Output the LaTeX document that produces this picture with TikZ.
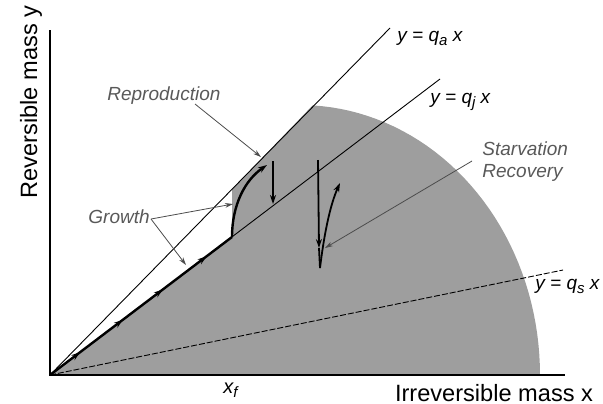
\documentclass[tikz,border=0pt]{standalone}
\usepackage{fontspec}
\setmainfont{Liberation Sans}
\usetikzlibrary{arrows.meta,decorations.markings}
\newcommand{\lowsub}[1]{\raisebox{-0.45ex}{\fontsize{7.5}{8}\selectfont #1}}
\begin{document}
\begin{tikzpicture}[x=0.5pt,y=-0.5pt,
  thinline/.style={line width=0.45pt, black},
  leader/.style={line width=0.4pt, black!70, -{Stealth[length=4pt,width=2.4pt]}},
  heavy/.style={line width=1.2pt, black},
  headtip/.style={-{Stealth[length=4.5pt,width=3pt]}},
  lbl/.style={font=\fontsize{9.5}{11}\selectfont\itshape, text=black!65, inner sep=0},
  eq/.style={font=\fontsize{9.5}{11}\selectfont\itshape, inner sep=0},
  axislbl/.style={font=\fontsize{11.8}{14}\selectfont, inner sep=0}]
\useasboundingbox (0,0) rectangle (603,403);
% key coordinates
\coordinate (O) at (50,375);
\coordinate (xf) at (232,237);
\coordinate (qaf) at (232,189.3);
\coordinate (qaend) at (390,28);
\coordinate (qjend) at (440,79);
\coordinate (qsend) at (563,270);
% shaded feasible region
\fill[black!38] (O) -- (xf) -- (qaf) -- (312.6,105.4)
  -- plot[domain=87:0,samples=40] ({300+240*cos(\x)},{375-270*sin(\x)}) -- cycle;
% lines
\draw[thinline] (O) -- (qaend);
\draw[thinline] (O) -- (qjend);
\draw[thinline, dash pattern=on 3pt off 1pt] (O) -- (qsend);
% axes
\coordinate (ytop) at (50,30);
\coordinate (xend) at (565,375);
\draw[line width=0.8pt] (ytop) -- (O) -- (xend);
% growth trajectory
\draw[heavy, postaction={decorate}, decoration={markings,
  mark=at position 0.165 with {\arrow{Stealth[length=4.5pt,width=3pt]}},
  mark=at position 0.40 with {\arrow{Stealth[length=4.5pt,width=3pt]}},
  mark=at position 0.62 with {\arrow{Stealth[length=4.5pt,width=3pt]}},
  mark=at position 0.86 with {\arrow{Stealth[length=4.5pt,width=3pt]}}}] (O) -- (xf);
% reproduction
\coordinate (rtop) at (267,165);
\draw[heavy, headtip] (xf) .. controls (232,205) and (245,180) .. (rtop);
\coordinate (d1) at (273,161);
\coordinate (d2) at (273,204);
\draw[heavy, headtip] (d1) -- (d2);
% starvation / recovery
\coordinate (s1) at (318,160);
\coordinate (s2) at (319,248);
\coordinate (s3) at (320,268);
\coordinate (s4) at (340,183);
\draw[line width=0.9pt, headtip] (s1) -- (s2);
\draw[line width=0.9pt] (s2) -- (s3);
\draw[line width=0.9pt, headtip] (s3) .. controls (324,235) and (330,205) .. (s4);
% labels
\node[axislbl, anchor=base] (xl) at (494,401) {Irreversible mass x};
\node[axislbl, rotate=90, anchor=base] (yl) at (37,102) {Reversible mass y};
\node[eq, anchor=base west] (qa) at (397,41) {y = q\lowsub{a} x};
\node[eq, anchor=base west] (qj) at (430,103) {y = q\lowsub{j} x};
\node[eq, anchor=base west] (qs) at (535,289) {y = q\lowsub{s} x};
\node[eq, anchor=base west, font=\fontsize{10}{12}\selectfont\itshape] (xfl) at (223,393) {x\lowsub{f}};
\node[lbl, anchor=base west] (rep) at (107,100) {Reproduction};
\node[lbl, anchor=base west] (gro) at (88,223) {Growth};
\node[lbl, anchor=base west] (sta) at (482,155) {Starvation};
\node[lbl, anchor=base west] (rec) at (482,177) {Recovery};
% leaders
\coordinate (repA) at (195,104);
\coordinate (repB) at (261,157);
\draw[leader] (repA) -- (repB);
\coordinate (groA) at (151,219);
\coordinate (groB) at (233,204);
\coordinate (groC) at (186,265);
\draw[leader] (groA) -- (groB);
\draw[leader] (groA) -- (groC);
\coordinate (staA) at (472,161);
\coordinate (staB) at (325,248);
\draw[leader] (staA) -- (staB);
\end{tikzpicture}
\end{document}
